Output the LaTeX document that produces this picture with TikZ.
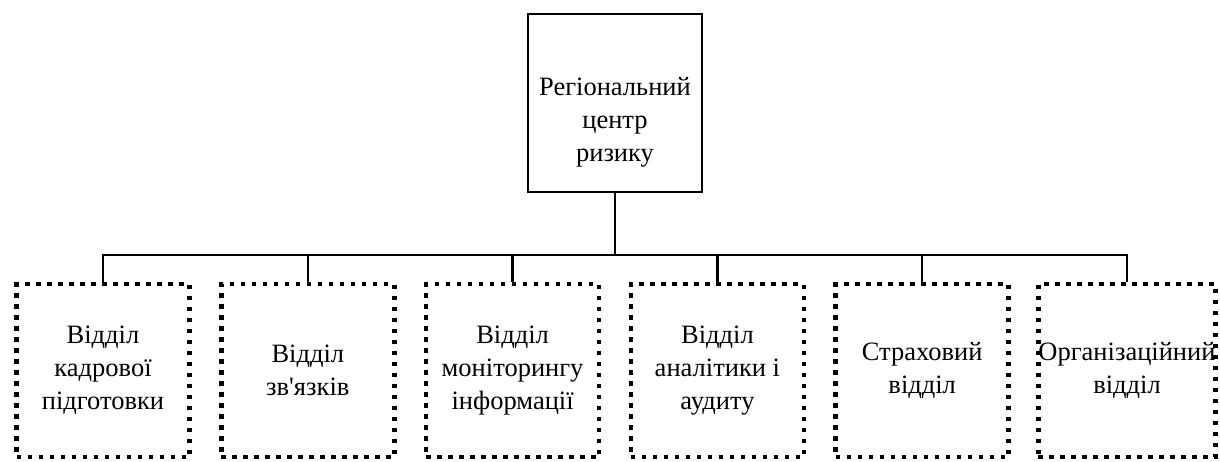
\documentclass[tikz,border=0pt]{standalone}
\usepackage{fontspec}
\setmainfont{Liberation Serif}
\begin{document}
\begin{tikzpicture}[x=1pt,y=-1pt,
  every node/.style={font=\fontsize{26.5}{33}\selectfont, align=center, inner sep=0pt},
  topbox/.style={draw, line width=2.5pt, minimum width=174pt, minimum height=178pt},
  unitbox/.style={draw, line width=4.5pt, dash pattern=on 4.5pt off 6.5pt, minimum width=173pt, minimum height=173pt},
  link/.style={line width=2.5pt}]
\useasboundingbox (0,0) rectangle (1220,461);
\node[topbox] (top) at (615,103) {};
\node (toptext) at (615,122) {Регіональний\\центр\\ризику};
\node[unitbox] (u1) at (103,370.5) {Відділ\\кадрової\\підготовки};
\node[unitbox] (u2) at (307.8,370.5) {Відділ\\зв\textquotesingle язків};
\node[unitbox] (u3) at (512.6,370.5) {Відділ\\моніторингу\\інформації};
\node[unitbox] (u4) at (717.4,370.5) {Відділ\\аналітики і\\аудиту};
\node[unitbox] (u5) at (922.2,370.5) {Страховий\\відділ};
\node[unitbox] (u6) at (1127,370.5) {Організаційний\\відділ};
\coordinate (bus) at (615,255);
\draw[link] (top.south) -- (bus);
\draw[link] (u1.north) -- (u1.north |- bus) -- (u6.north |- bus) -- (u6.north);
\foreach \u in {u2,u3,u4,u5}
  \draw[link] (\u.north) -- (\u.north |- bus);
\end{tikzpicture}
\end{document}
